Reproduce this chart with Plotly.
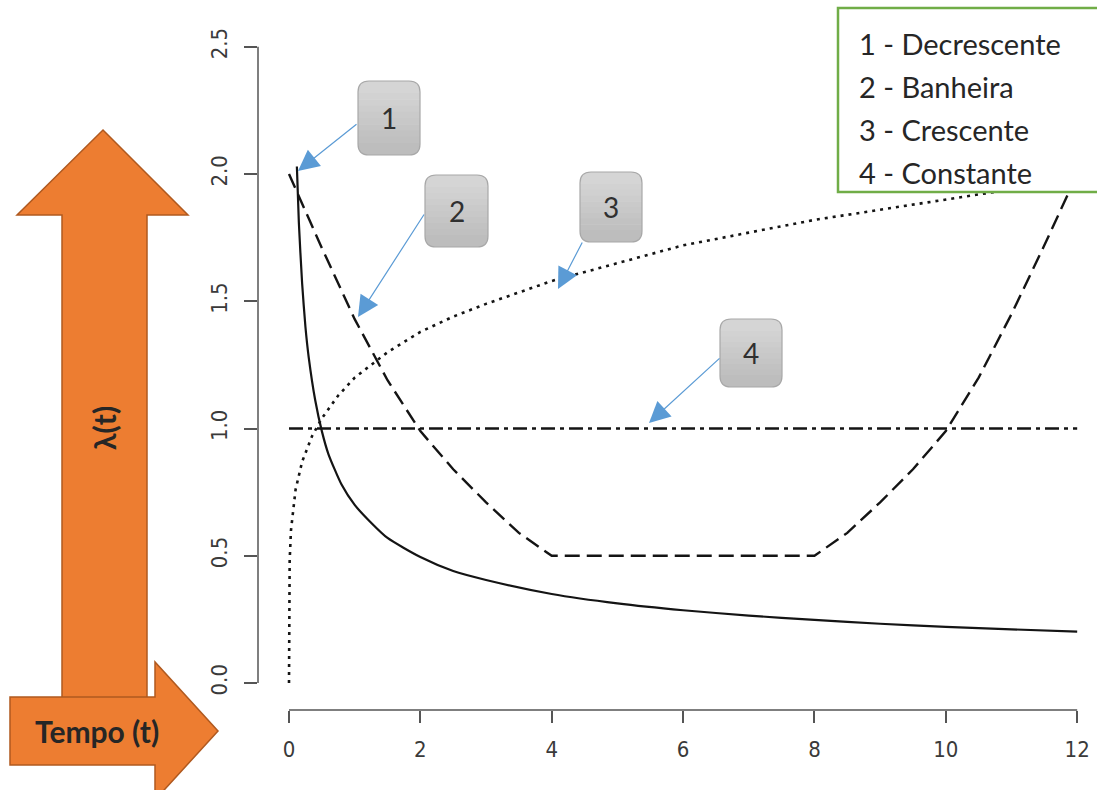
import plotly.graph_objects as go

# ---------------- data ----------------
t_dec = [0.12, 0.15, 0.2, 0.25, 0.3, 0.4, 0.5, 0.6, 0.8, 1.0, 1.25, 1.5, 2.0, 2.5, 3.0,
         4.0, 5.0, 6.0, 7.0, 8.0, 9.0, 10.0, 11.0, 12.0]
y_dec = [2.03, 1.81, 1.57, 1.40, 1.28, 1.11, 0.99, 0.90, 0.78, 0.70, 0.63, 0.57, 0.495, 0.44, 0.405,
         0.35, 0.313, 0.286, 0.265, 0.248, 0.233, 0.221, 0.211, 0.202]

t_bath = [0, 0.5, 1, 1.5, 2, 2.5, 3, 3.5, 4, 8, 8.5, 9, 9.5, 10, 10.5, 11, 11.5, 12]
y_bath = [2.0, 1.71, 1.43, 1.19, 0.99, 0.84, 0.71, 0.59, 0.5, 0.5, 0.59, 0.71, 0.84, 0.99, 1.20, 1.45, 1.72, 2.0]

t_inc = [0, 0.003, 0.01, 0.03, 0.06, 0.1, 0.2, 0.35, 0.5, 0.75, 1, 1.5, 2, 2.5, 3, 4, 5, 6, 7, 8, 9, 10, 11, 12]
y_inc = [0, 0.37, 0.48, 0.60, 0.68, 0.76, 0.87, 0.97, 1.04, 1.13, 1.20, 1.30, 1.38, 1.44, 1.49,
         1.58, 1.65, 1.72, 1.77, 1.82, 1.86, 1.90, 1.94, 1.97]

t_const = [0, 12]
y_const = [1.0, 1.0]

x_ticks = [0, 2, 4, 6, 8, 10, 12]
y_ticks = [0, 0.5, 1.0, 1.5, 2.0, 2.5]
y_ticktext = ["0.0", "0.5", "1.0", "1.5", "2.0", "2.5"]

legend_lines = ["1 - Decrescente", "2 - Banheira", "3 - Crescente", "4 - Constante"]
callout_labels = ["1", "2", "3", "4"]

# ---------------- layout geometry (pixels) ----------------
W, H = 1097, 790
ML, MR, MT, MB = 258, 8, 40, 80
PW, PH = W - ML - MR, H - MT - MB


def px(x):
    return (x - ML) / PW


def py(y):
    return (H - MB - y) / PH


def P(x, y):
    return f"{px(x):.5f},{py(y):.5f}"


def rrect_path(x0, y0, x1, y1, r, top=True, bot=True):
    rt = r if top else 0
    rb = r if bot else 0
    s = f"M {P(x0 + rt, y0)} L {P(x1 - rt, y0)} "
    if rt:
        s += f"Q {P(x1, y0)} {P(x1, y0 + rt)} "
    s += f"L {P(x1, y1 - rb)} "
    if rb:
        s += f"Q {P(x1, y1)} {P(x1 - rb, y1)} "
    s += f"L {P(x0 + rb, y1)} "
    if rb:
        s += f"Q {P(x0, y1)} {P(x0, y1 - rb)} "
    s += f"L {P(x0, y0 + rt)} "
    if rt:
        s += f"Q {P(x0, y0)} {P(x0 + rt, y0)} "
    return s + "Z"


def poly_path(pts):
    return "M " + " L ".join(P(x, y) for x, y in pts) + " Z"


def mix(c0, c1, f):
    return "#" + "".join(f"{round(a + (b - a) * f):02x}" for a, b in zip(c0, c1))


fig = go.Figure()
ink = "#141414"
fig.add_trace(go.Scatter(x=t_dec, y=y_dec, mode="lines", line=dict(color=ink, width=2.2, shape="spline", smoothing=0.6),
                         showlegend=False))
fig.add_trace(go.Scatter(x=t_bath, y=y_bath, mode="lines",
                         line=dict(color=ink, width=2.4, dash="15px,7px"), showlegend=False))
fig.add_trace(go.Scatter(x=t_inc, y=y_inc, mode="lines",
                         line=dict(color=ink, width=2.6, dash="3px,5px"), showlegend=False))
fig.add_trace(go.Scatter(x=t_const, y=y_const, mode="lines",
                         line=dict(color=ink, width=2.4, dash="14px,5px,4px,5px"), showlegend=False))

shapes = []
annotations = []

# R-style axis lines
shapes.append(dict(type="line", xref="x", yref="paper", x0=0, x1=12, y0=0, y1=0,
                   line=dict(color="#555", width=1.5)))
shapes.append(dict(type="line", xref="paper", yref="y", x0=0, x1=0, y0=0, y1=2.5,
                   line=dict(color="#555", width=1.5)))

# orange arrows
orange = "#ed7d31"
orange_edge = "#b0591f"
shapes.append(dict(type="path", xref="paper", yref="paper", layer="above",
                   path=poly_path([(62, 705), (62, 215), (17, 215), (103, 130), (188, 215), (147, 215), (147, 705)]),
                   fillcolor=orange, line=dict(color=orange_edge, width=1.5)))
shapes.append(dict(type="path", xref="paper", yref="paper", layer="above",
                   path=poly_path([(10, 697), (155, 697), (155, 662), (218, 731), (155, 800), (155, 765), (10, 765)]),
                   fillcolor=orange, line=dict(color=orange_edge, width=1.5)))
annotations.append(dict(xref="paper", yref="paper", x=px(97), y=py(731), text="<b>Tempo (t)</b>",
                        showarrow=False, font=dict(family="Lato", size=30, color="#262626"),
                        xanchor="center", yanchor="middle"))
annotations.append(dict(xref="paper", yref="paper", x=px(104), y=py(428), text="<b>λ(t)</b>",
                        showarrow=False, textangle=-90, font=dict(family="Lato", size=30, color="#262626"),
                        xanchor="center", yanchor="middle"))

# callout boxes (rounded, vertical grey gradient)
boxes = [(358, 81, 420, 155), (425, 175, 488, 247), (580, 172, 642, 242), (720, 319, 782, 387)]
arrows = [((358, 123), (298, 171)), ((425, 213), (358, 317)), ((583, 241), (558, 289)), ((721, 357), (649, 423))]
c_top, c_bot = (0xd6, 0xd6, 0xd6), (0xbc, 0xbc, 0xbc)
R = 11
for (x0, y0, x1, y1), lab in zip(boxes, callout_labels):
    edges = [y0, y0 + R + 1]
    nmid = 8
    inner = (y1 - R - 1) - (y0 + R + 1)
    for k in range(1, nmid):
        edges.append(y0 + R + 1 + inner * k / nmid)
    edges += [y1 - R - 1, y1]
    nb = len(edges) - 1
    for i in range(nb):
        b0 = edges[i]
        b1 = min(y1, edges[i + 1] + 0.6)
        c = mix(c_top, c_bot, (i + 0.5) / nb)
        shapes.append(dict(type="path", xref="paper", yref="paper", layer="above",
                           path=rrect_path(x0, b0, x1, b1, R, top=(i == 0), bot=(i == nb - 1)),
                           fillcolor=c, line=dict(width=0)))
    shapes.append(dict(type="path", xref="paper", yref="paper", layer="above",
                       path=rrect_path(x0, y0, x1, y1, R), fillcolor="rgba(0,0,0,0)",
                       line=dict(color="#a8a8a8", width=1.2)))
    annotations.append(dict(xref="paper", yref="paper", x=px((x0 + x1) / 2), y=py((y0 + y1) / 2),
                            text=lab, showarrow=False, font=dict(family="Lato", size=28, color="#303030"),
                            xanchor="center", yanchor="middle"))

for (tail, tip) in arrows:
    annotations.append(dict(xref="paper", yref="paper", x=px(tip[0]), y=py(tip[1]), text="",
                            showarrow=True, ax=tail[0] - tip[0], ay=tail[1] - tip[1],
                            arrowcolor="#5b9bd5", arrowwidth=1.2, arrowhead=2, arrowsize=3.5, standoff=0))

# legend box
shapes.append(dict(type="rect", xref="paper", yref="paper", layer="above",
                   x0=px(838), x1=px(1102), y0=py(8), y1=py(192),
                   fillcolor="white", line=dict(color="#70ad47", width=2.5)))
for i, txt in enumerate(legend_lines):
    annotations.append(dict(xref="paper", yref="paper", x=px(857), y=py(44 + i * 42.7), text=txt,
                            showarrow=False, font=dict(family="Lato", size=29, color="#262626"),
                            xanchor="left", yanchor="middle"))

axis_font = dict(family="Liberation Sans Narrow, DejaVu Sans Condensed, Liberation Sans, Arial", size=22, color="#3a3a3a")
fig.update_layout(
    width=W, height=H,
    margin=dict(l=ML, r=MR, t=MT, b=MB, pad=0),
    paper_bgcolor="white", plot_bgcolor="white",
    shapes=shapes, annotations=annotations,
    xaxis=dict(range=[-0.472, 12.18], tickvals=x_ticks, ticks="outside", ticklen=12, tickwidth=1.5,
               tickcolor="#555", showline=False, showgrid=False, zeroline=False, tickfont=axis_font,
               ticklabelstandoff=8),
    yaxis=dict(range=[-0.106, 2.527], tickvals=y_ticks, ticktext=y_ticktext, tickangle=-90,
               ticks="outside", ticklen=13, tickwidth=1.5, tickcolor="#555",
               showline=False, showgrid=False, zeroline=False, tickfont=axis_font,
               ticklabelstandoff=8),
)

fig.write_html("out.html", config={"displayModeBar": False},
               post_script="document.body.style.margin='0';document.body.style.overflow='hidden';")
